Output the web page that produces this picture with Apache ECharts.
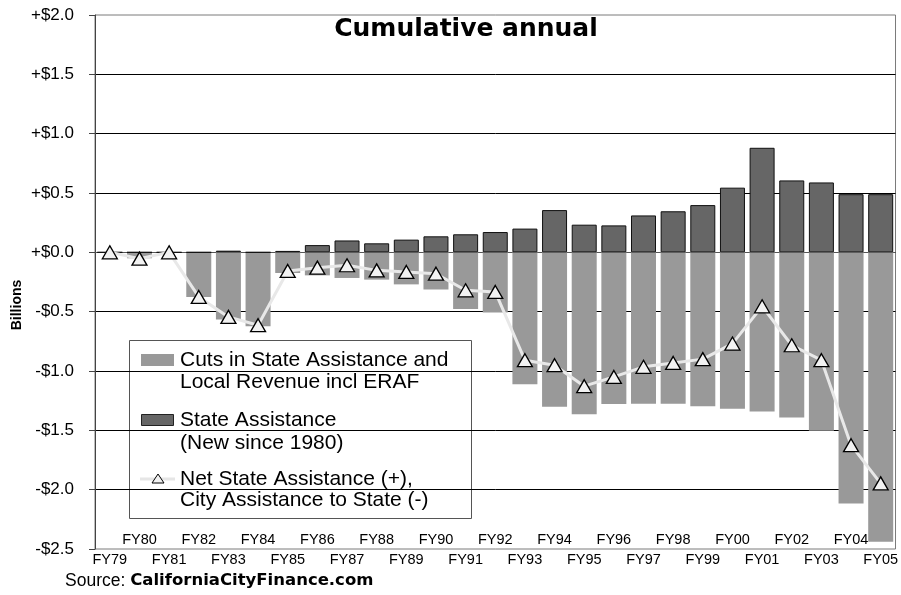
<!DOCTYPE html>
<html>
<head>
<meta charset="UTF-8">
<title>Cumulative annual</title>
<script src="https://cdn.jsdelivr.net/npm/echarts@6/dist/echarts.min.js"></script>
<style type="text/css">
    html,body{margin:0;padding:0;background:#fff;}
    #chart{width:901px;height:595px;}
</style>
</head>
<body>
<div id="chart"></div>
<script>
// fiscal years on the x axis
var years = ['FY79','FY80','FY81','FY82','FY83','FY84','FY85','FY86','FY87','FY88','FY89','FY90','FY91',
             'FY92','FY93','FY94','FY95','FY96','FY97','FY98','FY99','FY00','FY01','FY02','FY03','FY04','FY05'];

// billions
var cuts   = [0, -0.05, 0, -0.376, -0.567, -0.623, -0.174, -0.194, -0.216, -0.23, -0.27, -0.314, -0.477,
              -0.508, -1.111, -1.302, -1.364, -1.279, -1.277, -1.277, -1.296, -1.319, -1.341, -1.392, -1.504, -2.116, -2.438];
var assist = [0, 0, 0, 0, 0.014, 0, 0.012, 0.061, 0.10, 0.076, 0.107, 0.135, 0.152,
              0.171, 0.20, 0.356, 0.233, 0.227, 0.311, 0.346, 0.398, 0.545, 0.881, 0.606, 0.589, 0.49, 0.49];
var net    = [0, -0.053, 0, -0.376, -0.544, -0.614, -0.157, -0.129, -0.109, -0.152, -0.165, -0.18, -0.32,
              -0.334, -0.909, -0.951, -1.128, -1.05, -0.965, -0.932, -0.90, -0.769, -0.455, -0.783, -0.909, -1.625, -1.947];

var fontArial = 'Liberation Sans, Arial, sans-serif';

var chart = echarts.init(document.getElementById('chart'));

var option = {
    animation: false,
    grid: {left: 95, right: 4, top: 15, bottom: 46, show: true, borderColor: '#7a7a7a', borderWidth: 1},
    xAxis: [
        {
            type: 'category',
            data: years,
            position: 'bottom',
            axisLine: {lineStyle: {color: '#555', width: 1}},
            axisTick: {show: false},
            axisLabel: {
                interval: function (i) { return i % 2 === 0; },
                margin: 3,
                fontSize: 14.5,
                fontFamily: fontArial,
                color: '#000'
            }
        },
        {
            type: 'category',
            data: years,
            position: 'bottom',
            axisLine: {show: false},
            axisTick: {show: false},
            axisLabel: {
                inside: true,
                interval: function (i) { return i % 2 === 1; },
                margin: 2,
                fontSize: 14.5,
                fontFamily: fontArial,
                color: '#000'
            }
        }
    ],
    yAxis: {
        type: 'value',
        min: -2.5,
        max: 2,
        interval: 0.5,
        axisLine: {show: true, lineStyle: {color: '#444', width: 1}},
        axisTick: {show: true, length: 6, lineStyle: {color: '#444'}},
        axisLabel: {
            margin: 21,
            fontSize: 17,
            fontFamily: fontArial,
            color: '#000',
            formatter: function (v) {
                return (v < 0 ? '-$' : '+$') + Math.abs(v).toFixed(1);
            }
        },
        splitLine: {show: true, showMinLine: false, showMaxLine: false, lineStyle: {color: '#000', width: 1}}
    },
    series: [
        {
            name: 'Cuts in State Assistance and Local Revenue incl ERAF',
            type: 'bar',
            data: cuts,
            barWidth: 25,
            barGap: '-100%',
            itemStyle: {color: '#999999'}
        },
        {
            name: 'State Assistance (New since 1980)',
            type: 'bar',
            data: assist,
            barWidth: 25,
            barGap: '-100%',
            itemStyle: {color: '#666666', borderColor: '#111', borderWidth: 1}
        },
        {
            name: 'Net State Assistance (+), City Assistance to State (-)',
            type: 'line',
            data: net,
            z: 5,
            symbol: 'triangle',
            symbolSize: [15, 13],
            lineStyle: {color: '#e8e8e8', width: 3},
            itemStyle: {color: '#f2f2f2', borderColor: '#000', borderWidth: 1.3}
        }
    ],
    graphic: [
        {
            type: 'text', x: 466, y: 17, z: 50,
            style: {text: 'Cumulative annual', font: 'bold 25px "DejaVu Sans", sans-serif', fill: '#000',
                    align: 'center', verticalAlign: 'top'}
        },
        {
            type: 'text', x: 10, y: 305, rotation: Math.PI / 2, z: 50,
            style: {text: 'Billions', font: 'bold 14px ' + fontArial, fill: '#000', align: 'center', verticalAlign: 'top'}
        },
        {
            type: 'text', x: 65, y: 572, z: 50,
            style: {
                text: '{a|Source: }{b|CaliforniaCityFinance.com}',
                rich: {
                    a: {fontSize: 17.5, fontFamily: fontArial, fill: '#000'},
                    b: {fontSize: 16.5, fontWeight: 'bold', fontFamily: '"DejaVu Sans", sans-serif', fill: '#000'}
                }
            }
        },
        // legend box
        {
            type: 'group', z: 60,
            children: [
                {type: 'rect', shape: {x: 129.5, y: 340.5, width: 342, height: 178},
                 style: {fill: '#fff', stroke: '#555', lineWidth: 1}},
                {type: 'rect', shape: {x: 141, y: 354, width: 33, height: 12}, style: {fill: '#999999'}},
                {type: 'text', x: 180, y: 349,
                 style: {text: 'Cuts in State Assistance and\nLocal Revenue incl ERAF', font: '21px ' + fontArial,
                         lineHeight: 22, fill: '#000', verticalAlign: 'top'}},
                {type: 'rect', shape: {x: 141.5, y: 414.5, width: 32, height: 11},
                 style: {fill: '#666666', stroke: '#222', lineWidth: 1}},
                {type: 'text', x: 180, y: 409,
                 style: {text: 'State Assistance\n(New since 1980)', font: '21px ' + fontArial,
                         lineHeight: 23, fill: '#000', verticalAlign: 'top'}},
                {type: 'line', shape: {x1: 140, y1: 479, x2: 175, y2: 479}, style: {stroke: '#e6e6e6', lineWidth: 3}},
                {type: 'polygon', shape: {points: [[158, 474], [152, 483], [164, 483]]},
                 style: {fill: '#f2f2f2', stroke: '#000', lineWidth: 1}},
                {type: 'text', x: 180, y: 469,
                 style: {text: 'Net State Assistance (+),\nCity Assistance to State (-)', font: '21px ' + fontArial,
                         lineHeight: 21, fill: '#000', verticalAlign: 'top'}}
            ]
        }
    ]
};

chart.setOption(option);
</script>
</body>
</html>
